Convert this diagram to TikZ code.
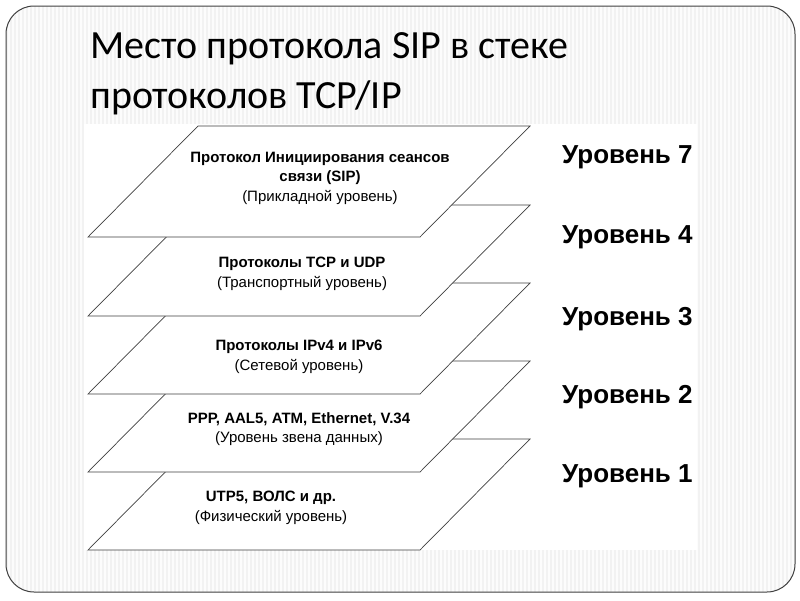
\documentclass[tikz,border=0pt]{standalone}
\usepackage{fontspec}
\setmainfont{Liberation Sans}
\newfontfamily\titlefont{Carlito}
\tikzset{
  layer/.style={fill=white, draw=black!75, line width=0.7pt, line join=miter},
  stripe/.style={draw=black!5, line width=1.4pt},
  border/.style={draw=black!75, line width=1pt},
  layertext/.style={align=center, font=\fontsize{15}{19.5}\selectfont, inner sep=0pt},
  levellabel/.style={anchor=west, font=\fontsize{26}{30}\selectfont\bfseries, inner sep=0pt},
  titletext/.style={anchor=base west, font=\titlefont\fontsize{40}{46}\selectfont, inner sep=0pt}
}
\begin{document}
\begin{tikzpicture}[x=1pt,y=-1pt]
\useasboundingbox (0,0) rectangle (800,600);
\fill[white] (0,0) rectangle (800,600);
\begin{scope}
  \clip[rounded corners=28pt] (6,6) rectangle (795,592);
  \fill[black!1] (6,6) rectangle (795,592);
  \foreach \x in {7,11,...,795} \draw[stripe] (\x,6) -- (\x,592);
\end{scope}
\draw[border, rounded corners=28pt] (6,6) rectangle (795,592);

\node[titletext] (t1) at (90,58) {Место протокола SIP в стеке};
\node[titletext] (t2) at (90,108) {протоколов TCP/IP};

\fill[white] (84,124) rectangle (697,550);

\foreach \t in {439,361,283,205,126}
  \draw[layer] (88,{\t+111}) -- (420,{\t+111}) -- (530,\t) -- (198,\t) -- cycle;

\node[layertext] (l7) at (320,178) {\textbf{Протокол Инициирования сеансов}\\\textbf{связи (SIP)}\\(Прикладной уровень)};
\node[layertext] (l4) at (302,274) {\textbf{Протоколы TCP и UDP}\\(Транспортный уровень)};
\node[layertext] (l3) at (299,357) {\textbf{Протоколы IPv4 и IPv6}\\(Сетевой уровень)};
\node[layertext] (l2) at (299,429) {\textbf{PPP, AAL5, ATM, Ethernet, V.34}\\(Уровень звена данных)};
\node[layertext] (l1) at (271,508) {\textbf{UTP5, ВОЛС и др.}\\(Физический уровень)};

\node[levellabel] (r7) at (562,157) {Уровень 7};
\node[levellabel] (r4) at (562,237) {Уровень 4};
\node[levellabel] (r3) at (562,319) {Уровень 3};
\node[levellabel] (r2) at (562,397) {Уровень 2};
\node[levellabel] (r1) at (562,476) {Уровень 1};
\end{tikzpicture}
\end{document}
